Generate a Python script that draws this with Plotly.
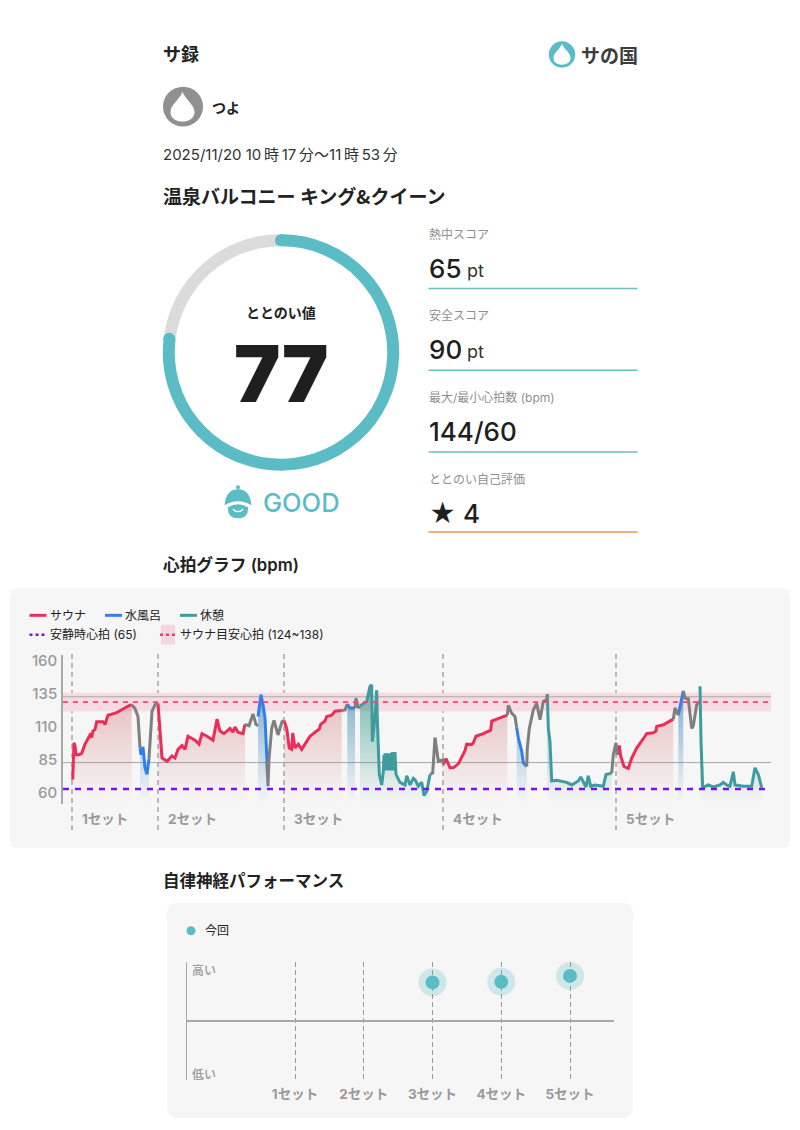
"""サ録 card: gauge, scores, heart rate graph and autonomic performance."""

import plotly.graph_objects as go

WIDTH = 800
HEIGHT = 1130
JP = "Noto Sans CJK JP"
LATIN = "Inter"
MIXED = "Inter, Noto Sans CJK JP"
DARK = "#222222"
GREY = "#8f8f8f"
TEAL = "#5bbcc5"

# gauge / scores
score = 77
score_rest = 23
metric_labels = ["熱中スコア", "安全スコア", "最大/最小心拍数 (bpm)", "ととのい自己評価"]
metric_values = ["65", "90", "144/60", "★ 4"]
metric_units = ["pt", "pt", "", ""]

# heart rate, time = sample number since the first set started
set_starts = [0, 86, 212, 371, 544]
set_labels = ["1セット", "2セット", "3セット", "4セット", "5セット"]
rest_hr = 65
target_low = 124
target_high = 138
target_mid = 131
hr_ticks = [60, 85, 110, 135, 160]
hr_lines = [85, 135]

sauna_time = [
    [0.7, 2, 3, 4, 7, 9.7, 13, 18, 19.7, 21, 23, 24.7, 31, 33, 36, 44.7, 56.3, 59.7],
    [86, 88, 90, 95, 100, 103, 106, 110, 113, 116, 123, 127, 130, 135, 141, 145, 148, 152, 158, 161, 163, 166, 171, 173],
    [212, 214.7, 217.3, 219.7, 220.7, 223, 226.3, 229.7, 233, 238, 241.3, 244.7, 247.3, 248.7, 253, 254.7, 259.7, 263, 269.7],
    [371.3, 374, 378, 381.3, 386.3, 389.7, 393, 394.7, 399.7, 401.3, 404, 411.3, 416.3, 418.7, 419.7, 424.7, 428, 435.3],
    [545.3, 547.3, 548.7, 552, 556.3, 559.7, 564.7, 568, 573, 574.7, 581.3, 584, 584.7, 591.3, 596.3, 601.3],
]
sauna_bpm = [
    [72, 100, 98, 91, 91, 92, 99, 106, 104, 109, 110, 116, 116, 114, 121, 123, 128, 129],
    [130, 106, 88.5, 86, 90, 88.5, 95, 98, 95, 105, 102, 99, 107, 105, 102, 118, 109, 107, 111, 108, 112, 108, 107, 114],
    [117, 111, 96, 95, 107.5, 96, 99, 95, 99, 105, 107, 109, 110.5, 114, 116.6, 120, 121, 124, 124.5],
    [83.5, 88, 81, 81, 84, 88.7, 94, 99, 98.8, 100, 105, 107, 108.5, 109.6, 116.5, 118, 119, 121],
    [91, 98, 90, 82, 80.5, 88.5, 96, 100, 105, 107, 107.7, 109, 112.5, 113.7, 116, 118],
]

cold_time = [
    [68, 69, 71, 73, 75, 77],
    [186, 189, 191, 193, 195, 195.5],
    [275.3, 278, 283],
    [444.7, 446.3, 449.7, 451.3, 454.7],
    [606.3, 611.3],
]
cold_bpm = [
    [96, 91, 97, 81, 76, 88],
    [120, 136.5, 129, 119, 86, 75],
    [129.5, 126.5, 126.5],
    [111.5, 104, 93.5, 85, 82],
    [121, 139.5],
]

rest_time = [
    [288, 294.7, 298, 299.7, 300.3, 303, 304.7, 305.3, 307.3, 309.7, 311.3, 312, 312.6, 313.2, 313.8, 314.4, 315, 315.6,
     316.2, 316.8, 317.4, 318, 318.6, 319.2, 319.8, 320.4, 321, 321.6, 322.2, 323, 324, 328, 333, 334.7, 338, 341.3,
     343, 346.3, 349.7, 352, 354.7, 357.3, 358],
    [475.3, 476.3, 478, 479.7, 484.7, 494.7, 499.7, 506.3, 508.7, 511.3, 514, 516.3, 518.7, 523, 531.3, 534, 539.7],
    [628, 629, 630.7, 636.3, 641.3, 648, 651.3, 654.7, 658, 661.3, 663, 671.3, 679.7, 683, 686.3, 689.7],
]
rest_bpm = [
    [128, 131.5, 143, 144, 101, 120, 140, 119, 76, 68, 78, 91, 79, 92, 79, 91, 80, 92, 79, 92, 80, 92,
     79, 92, 80, 93, 79, 93, 80, 93, 76, 70, 68, 75, 68, 73, 72, 67, 70, 60, 63, 72, 76],
    [137, 111, 101, 71, 71.5, 70, 68, 71, 74, 70, 66.5, 75, 67, 68, 67, 76, 77],
    [143, 101, 66, 68, 66.5, 68, 70, 68, 67, 78, 68, 67, 67, 81, 76, 66],
]

other_time = [
    [59.7, 63, 66, 68],
    [77, 78, 80, 83, 86],
    [173, 177, 181, 184, 186],
    [195, 196, 197, 199.7, 202, 206, 210, 212],
    [269.7, 273, 275.3],
    [283, 284, 286.3, 288],
    [358, 360.7, 363, 366.3, 370.7, 371.3],
    [435.3, 436.3, 439.7, 443, 444.7],
    [454.7, 455.3, 457.3, 461.3, 464.7, 468, 471.3, 474.7, 475.3],
    [539.7, 541.3, 544, 545.3],
    [601.3, 603, 606.3],
    [611.3, 613, 616.3, 619.7, 621.3, 624.7, 628],
]
other_bpm = [
    [129, 126, 120, 96],
    [88, 104, 124, 129, 130],
    [114, 113, 122, 114, 113],
    [86, 67, 88, 111, 117, 106, 116, 117],
    [124.5, 125, 129.5],
    [126.5, 134, 126.5, 128],
    [76, 77, 104, 86, 87, 83.5],
    [121, 128.5, 122.5, 120, 111.5],
    [82, 96, 111, 125, 130, 117.5, 131.5, 133, 137],
    [77, 91, 100, 91],
    [118, 126.5, 121],
    [139.5, 134, 133.5, 111, 113, 129, 131.5],
]

# autonomic performance
perf_sets = ["1セット", "2セット", "3セット", "4セット", "5セット"]
perf_values = [None, None, 0.65, 0.66, 0.76]


def px(x):
    return x / WIDTH


def py(y):
    return 1 - y / HEIGHT


def path(points):
    """Build an svg path in paper coordinates from pixel pairs."""
    out = []
    for cmd, *nums in points:
        coords = []
        for i in range(0, len(nums), 2):
            coords.append(f"{px(nums[i]):.5f},{py(nums[i + 1]):.5f}")
        out.append(cmd + " ".join(coords))
    return " ".join(out) + " Z"


def round_rect(x0, y0, x1, y1, r):
    return path([
        ("M", x0 + r, y0), ("L", x1 - r, y0), ("Q", x1, y0, x1, y0 + r),
        ("L", x1, y1 - r), ("Q", x1, y1, x1 - r, y1), ("L", x0 + r, y1),
        ("Q", x0, y1, x0, y1 - r), ("L", x0, y0 + r), ("Q", x0, y0, x0 + r, y0),
    ])


def drop(cx, tip, bottom, w):
    """Water drop centred on cx."""
    return path([
        ("M", cx, tip),
        ("C", cx + w * 0.25, tip + (bottom - tip) * 0.28, cx + w, tip + (bottom - tip) * 0.42, cx + w, tip + (bottom - tip) * 0.68),
        ("C", cx + w, bottom - (bottom - tip) * 0.1, cx + w * 0.5, bottom, cx, bottom),
        ("C", cx - w * 0.5, bottom, cx - w, bottom - (bottom - tip) * 0.1, cx - w, tip + (bottom - tip) * 0.68),
        ("C", cx - w, tip + (bottom - tip) * 0.42, cx - w * 0.25, tip + (bottom - tip) * 0.28, cx, tip),
    ])


fig = go.Figure()
shapes = []
notes = []


def text(x, y, s, size=12, color=DARK, weight=400, family=MIXED, anchor="left"):
    notes.append(dict(
        x=px(x - 1), y=py(y), xref="paper", yref="paper", text=s, showarrow=False,
        xanchor=anchor, yanchor="middle", borderpad=0,
        font=dict(size=size, color=color, weight=weight, family=family),
    ))


def line(x0, y0, x1, y1, color, width=1, dash="solid", layer="above"):
    shapes.append(dict(type="line", xref="paper", yref="paper", x0=px(x0), y0=py(y0), x1=px(x1), y1=py(y1),
                       line=dict(color=color, width=width, dash=dash), layer=layer))


def circle(cx, cy, r, color, layer="above"):
    shapes.append(dict(type="circle", xref="paper", yref="paper", x0=px(cx - r), x1=px(cx + r),
                       y0=py(cy + r), y1=py(cy - r), fillcolor=color, line=dict(width=0), layer=layer))


def blob(d, color, layer="above"):
    shapes.append(dict(type="path", xref="paper", yref="paper", path=d, fillcolor=color, line=dict(width=0), layer=layer))


# panels
blob(round_rect(10, 586, 790, 847, 9), "#f6f6f6", "below")
blob(round_rect(167, 902, 633, 1118, 12), "#f6f6f6", "below")

# header
text(163, 49.5, "サ録", 18, weight=600, family=JP)
circle(562, 50.7, 13.2, TEAL)
blob(drop(562, 40, 61, 8.5), "#ffffff")
text(581, 50.5, "サの国", 19, "#3d3d3d", 700, JP)
circle(183, 103, 20, "#909090")
blob(drop(182.5, 88, 118, 12), "#ffffff")
text(212, 103, "つよ", 14, weight=600, family=JP)
text(163, 151, "2025/11/20 10\u2009時\u200917\u2009分～11\u2009時\u200953\u2009分", 15, "#333333")
text(163, 192, "温泉バルコニー キング&クイーン", 19, weight=600, family=JP)

# gauge
fig.add_trace(go.Pie(
    values=[score, score_rest], sort=False, direction="clockwise", rotation=0, hole=0.8985,
    marker=dict(colors=[TEAL, "#dbdbdb"], line=dict(width=0)),
    textinfo="none", hoverinfo="skip", showlegend=False,
    domain=dict(x=[px(162.7), px(399.3)], y=[py(468.3), py(231)]),
))
circle(281, 237, 6, TEAL)
circle(169.3, 336, 6, TEAL)
text(282, 309, "ととのい値", 14, weight=600, family=JP, anchor="center")
text(282, 371, "77", 78, "#1f1f1f", 900, LATIN, "center")

# mood icon
circle(238, 485, 2, TEAL)
blob(path([("M", 224.5, 503), ("Q", 226, 487, 238, 487), ("Q", 250, 487, 251.5, 503), ("Q", 238, 495, 224.5, 503)]), TEAL)
blob(path([("M", 228, 505), ("Q", 238, 499, 248, 505), ("Q", 249, 516, 238, 516), ("Q", 227, 516, 228, 505)]), TEAL)
shapes.append(dict(type="path", xref="paper", yref="paper",
                   path=f"M{px(233):.5f},{py(507):.5f} Q{px(238):.5f},{py(512):.5f} {px(243):.5f},{py(507):.5f}",
                   line=dict(color="#ffffff", width=1.2)))
text(262.5, 500, "GOOD", 25.5, TEAL, 500, LATIN)

# scores
metric_y = [231, 313, 395, 477]
for i, label in enumerate(metric_labels):
    y = metric_y[i]
    text(429, y, label, 12, GREY)
    text(429, y + 34, metric_values[i], 26, "#1f1f1f", 550, LATIN)
    if metric_units[i]:
        text(467, y + 36, metric_units[i], 18, "#333333", 400, LATIN)
    line(428.5, y + 54.5 if i < 3 else 530, 637.5, y + 54.5 if i < 3 else 530, "#f0934e" if i == 3 else "#6cbcc4", 1.5)

text(163, 563, "心拍グラフ (bpm)", 16.7, weight=600)
text(163, 879, "自律神経パフォーマンス", 16.5, weight=600, family=JP)

# heart rate legend
line(29.5, 613.5, 46.5, 613.5, "#ec2d5a", 3)
text(50, 613.5, "サウナ", 12)
line(105, 613.5, 122, 613.5, "#2f80ed", 3)
text(125, 613.5, "水風呂", 12)
line(180, 613.5, 197, 613.5, "#3e9c9f", 3)
text(200, 613.5, "休憩", 12)
line(29.5, 633, 46.5, 633, "#7a10f0", 2.5, "3px,3px")
text(50, 633, "安静時心拍 (65)", 12)
blob(round_rect(161, 623, 175, 643, 0.1), "#f7d7df", "below")
line(160, 633, 176, 633, "#ec3d68", 2.5, "3px,3px")
text(180, 633, "サウナ目安心拍 (124~138)", 12)

# heart rate reference marks
shapes.append(dict(type="rect", xref="x", yref="y", x0=-9, x1=699, y0=target_low, y1=target_high,
                   fillcolor="#f7dbe2", line=dict(width=0), layer="below"))
for value in hr_lines:
    shapes.append(dict(type="line", xref="x", yref="y", x0=-9, x1=699, y0=value, y1=value,
                       line=dict(color="#a8a8a8", width=1), layer="below"))
for start in set_starts:
    shapes.append(dict(type="line", xref="x", yref="paper", x0=start, x1=start, y0=py(829), y1=py(651),
                       line=dict(color="#999999", width=1.3, dash="5px,4px"), layer="below"))
shapes.append(dict(type="line", xref="x", yref="y", x0=-9, x1=699, y0=target_mid, y1=target_mid,
                   line=dict(color="#ec4a72", width=1.8, dash="5px,5px"), layer="above"))
shapes.append(dict(type="line", xref="x", yref="y", x0=-9, x1=699, y0=rest_hr, y1=rest_hr,
                   line=dict(color="#7a10f0", width=2.5, dash="6px,6px"), layer="above"))


def add_phase(times, values, color, fill_rgb=None, alpha=0.4):
    for t, v in zip(times, values):
        extra = {}
        if fill_rgb:
            extra = dict(fill="tozeroy", fillgradient=dict(
                type="vertical", start=138, stop=55,
                colorscale=[[0, f"rgba({fill_rgb},{alpha})"], [1, f"rgba({fill_rgb},0)"]],
            ))
        fig.add_trace(go.Scatter(
            x=t, y=v, mode="lines", line=dict(color=color, width=3), showlegend=False,
            hoverinfo="skip", xaxis="x", yaxis="y", **extra,
        ))


add_phase(sauna_time, sauna_bpm, "#ec2d5a", "205,90,90", 0.36)
add_phase(cold_time, cold_bpm, "#2f80ed", "50,130,180", 0.6)
add_phase(rest_time, rest_bpm, "#3e9c9f", "50,150,135", 0.6)
add_phase(other_time, other_bpm, "#7f7f7f")

for start, label in zip(set_starts, set_labels):
    notes.append(dict(x=start, y=py(817.5), xref="x", yref="paper", text=label, showarrow=False,
                      xanchor="left", yanchor="middle", xshift=8,
                      font=dict(size=13.5, color="#9a9a9a", weight=700, family=MIXED)))

# performance chart
text(205, 930, "今回", 12)
circle(191, 930, 4.5, TEAL)
text(192, 970, "高い", 12, "#999999", 500)
text(192, 1074, "低い", 12, "#999999", 500)
fig.add_trace(go.Scatter(
    x=perf_sets, y=perf_values, mode="markers", showlegend=False, hoverinfo="skip", xaxis="x2", yaxis="y2",
    marker=dict(size=28, color="rgba(91,188,197,0.25)", line=dict(width=0)),
))
fig.add_trace(go.Scatter(
    x=perf_sets, y=perf_values, mode="markers", showlegend=False, hoverinfo="skip", xaxis="x2", yaxis="y2",
    marker=dict(size=14, color=TEAL, line=dict(width=0)),
))

fig.update_layout(
    width=WIDTH, height=HEIGHT, margin=dict(l=0, r=0, t=0, b=0), autosize=False,
    paper_bgcolor="#ffffff", plot_bgcolor="rgba(0,0,0,0)", showlegend=False,
    font=dict(family=JP), shapes=shapes, annotations=notes,
    xaxis=dict(domain=[px(63), px(771)], range=[-9, 699], visible=False),
    yaxis=dict(
        domain=[py(803), py(653)], range=[53.4, 167], tickvals=hr_ticks, showgrid=False, zeroline=False,
        showline=True, linecolor="#a8a8a8", linewidth=1.5, ticks="", ticklabelstandoff=1, ticklabelshift=-3,
        tickfont=dict(size=15, color="#999999", weight=500, family=LATIN),
    ),
    xaxis2=dict(
        domain=[px(187), px(614)], range=[-1.571, 4.64], type="category", anchor="y2", categoryorder="array",
        categoryarray=perf_sets, showgrid=True, gridcolor="#999999", griddash="5px,3px", gridwidth=1,
        showline=False, zeroline=False, ticks="", ticklabelstandoff=4,
        tickfont=dict(size=13.5, color="#9a9a9a", weight=700, family=MIXED),
    ),
    yaxis2=dict(
        domain=[py(1080), py(961)], range=[-0.993, 1.0], anchor="x2", showgrid=False, showticklabels=False,
        ticks="", zeroline=True, zerolinecolor="#a8a8a8", zerolinewidth=2,
        showline=True, linecolor="#a8a8a8", linewidth=1.2,
    ),
)

fig.write_html("out.html", config=dict(displayModeBar=False), post_script="document.body.style.margin='0';")
